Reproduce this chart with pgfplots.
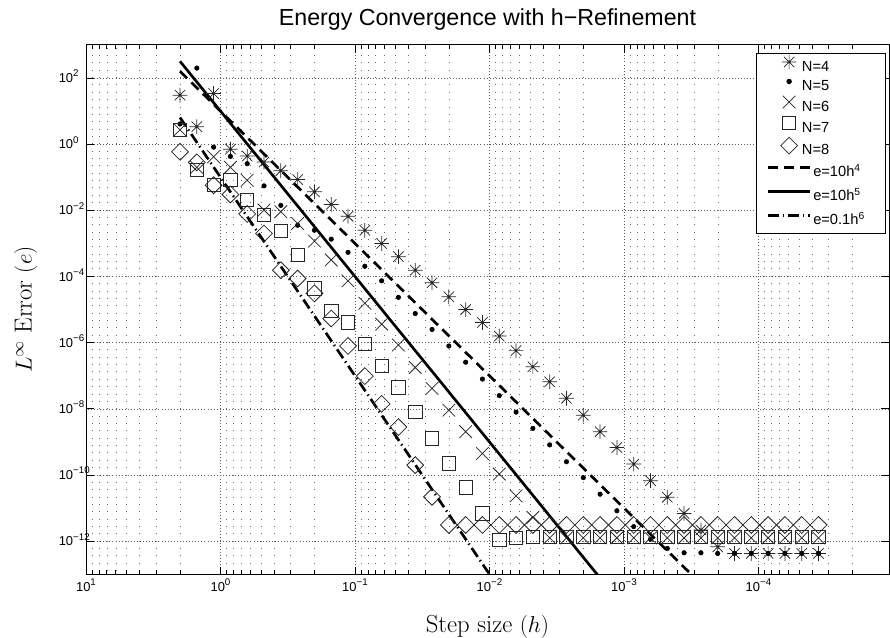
\documentclass[border=0pt]{standalone}
\usepackage{fontspec}
\setmainfont{Liberation Sans}
\newfontfamily\lmr{Latin Modern Roman}
\usepackage{pgfplots}
\usepackage{pgfplotstable}
\pgfplotsset{compat=1.18}

\pgfdeclareplotmark{mstar}{%
  \pgfpathmoveto{\pgfqpoint{-\pgfplotmarksize}{0pt}}\pgfpathlineto{\pgfqpoint{\pgfplotmarksize}{0pt}}%
  \pgfpathmoveto{\pgfqpoint{0pt}{-\pgfplotmarksize}}\pgfpathlineto{\pgfqpoint{0pt}{\pgfplotmarksize}}%
  \pgfpathmoveto{\pgfqpoint{-.707\pgfplotmarksize}{-.707\pgfplotmarksize}}\pgfpathlineto{\pgfqpoint{.707\pgfplotmarksize}{.707\pgfplotmarksize}}%
  \pgfpathmoveto{\pgfqpoint{-.707\pgfplotmarksize}{.707\pgfplotmarksize}}\pgfpathlineto{\pgfqpoint{.707\pgfplotmarksize}{-.707\pgfplotmarksize}}%
  \pgfusepathqstroke}
\pgfdeclareplotmark{mdiamond}{%
  \pgfpathmoveto{\pgfqpoint{0pt}{\pgfplotmarksize}}%
  \pgfpathlineto{\pgfqpoint{\pgfplotmarksize}{0pt}}%
  \pgfpathlineto{\pgfqpoint{0pt}{-\pgfplotmarksize}}%
  \pgfpathlineto{\pgfqpoint{-\pgfplotmarksize}{0pt}}%
  \pgfpathclose\pgfusepathqstroke}

\newcommand\tp[1]{10\raisebox{4.3pt}{\fontsize{7.3}{8}\selectfont #1}}
\newcommand\ytl[1]{\makebox[22pt][l]{\raisebox{0pt}[6.9pt][0pt]{\tp{#1}}}}

% columns: step size h, then log10 of the error for N=4..8
\pgfplotstableread{
h n4 n5 n6 n7 n8
2 1.48 0.61 0.43 0.43 -0.23
1.5 0.53 2.30 -0.70 -0.77 -0.55
1.125 1.53 -0.09 -0.38 -1.24 -1.24
0.84375 -0.15 -0.37 -0.70 -1.08 -1.52
0.6328125 -0.36 -0.59 -1.09 -1.68 -2.11
0.474609 -0.54 -1.26 -1.99 -2.14 -2.70
0.355957 -0.80 -1.85 -2.04 -2.63 -3.81
0.266968 -1.07 -2.45 -2.40 -3.35 -4.06
0.200226 -1.44 -2.60 -2.93 -4.36 -4.51
0.150169 -1.82 -2.87 -3.50 -5.04 -5.27
0.112627 -2.18 -3.27 -4.13 -5.39 -6.10
0.0844703 -2.60 -3.69 -4.81 -6.04 -7.01
0.0633527 -3.00 -4.13 -5.44 -6.71 -7.85
0.0475145 -3.40 -4.63 -6.07 -7.35 -8.55
0.0356359 -3.81 -5.12 -6.75 -8.10 -9.70
0.0267269 -4.19 -5.60 -7.38 -8.89 -10.66
0.0200452 -4.61 -6.10 -8.04 -9.65 -11.51
0.0150339 -5.00 -6.59 -8.69 -10.37 -11.51
0.0112754 -5.39 -7.10 -9.35 -11.16 -11.51
0.00845657 -5.80 -7.60 -9.97 -11.96 -11.51
0.00634243 -6.24 -8.10 -10.63 -11.91 -11.51
0.00475682 -6.73 -8.59 -11.28 -11.88 -11.51
0.00356762 -7.18 -9.09 -11.90 -11.88 -11.51
0.00267571 -7.68 -9.60 -11.90 -11.88 -11.51
0.00200678 -8.19 -10.08 -11.90 -11.88 -11.51
0.00150509 -8.69 -10.58 -11.90 -11.88 -11.51
0.00112882 -9.17 -11.08 -11.90 -11.88 -11.51
0.000846612 -9.67 -11.56 -11.90 -11.88 -11.51
0.000634959 -10.17 -11.94 -11.90 -11.88 -11.51
0.000476219 -10.67 -12.22 -11.90 -11.88 -11.51
0.000357164 -11.16 -12.35 -11.90 -11.88 -11.51
0.000267873 -11.66 -12.35 -11.90 -11.88 -11.51
0.000200905 -12.17 -12.37 -11.90 -11.88 -11.51
0.000150679 -12.37 -12.37 -11.90 -11.88 -11.51
0.000113009 -12.37 -12.37 -11.90 -11.88 -11.51
8.47566e-5 -12.37 -12.37 -11.90 -11.88 -11.51
6.35675e-5 -12.37 -12.37 -11.90 -11.88 -11.51
4.76756e-5 -12.37 -12.37 -11.90 -11.88 -11.51
3.57567e-5 -12.37 -12.37 -11.90 -11.88 -11.51
}\errdata

% reference slopes e=10h^4, e=10h^5, e=0.1h^6 at the end points
\pgfplotstableread{
h e4 e5 e6
2 160 320 6.4
3.57567e-5 1.634e-17 5.844e-22 2.09e-28
}\refdata

\begin{document}
\begin{tikzpicture}
\useasboundingbox (-64.5pt,-47.8pt) rectangle (603pt,430.7pt);
\begin{axis}[
  at={(0,0)}, anchor=south west,
  scale only axis, width=602.25pt, height=397pt,
  xmode=log, ymode=log, x dir=reverse,
  xmin=1.07e-5, xmax=10, ymin=1e-13, ymax=1e3,
  xtick={1e-4,1e-3,1e-2,1e-1,1,10},
  xticklabels={\tp{−4},\tp{−3},\tp{−2},\tp{−1},\tp{0},\tp{1}},
  minor xtick={2e-5,3e-5,4e-5,5e-5,6e-5,7e-5,8e-5,9e-5,
    2e-4,3e-4,4e-4,5e-4,6e-4,7e-4,8e-4,9e-4,
    2e-3,3e-3,4e-3,5e-3,6e-3,7e-3,8e-3,9e-3,
    2e-2,3e-2,4e-2,5e-2,6e-2,7e-2,8e-2,9e-2,
    0.2,0.3,0.4,0.5,0.6,0.7,0.8,0.9,2,3,4,5,6,7,8,9},
  ytick={1e-12,1e-10,1e-8,1e-6,1e-4,1e-2,1,1e2},
  yticklabels={\ytl{−12},\ytl{−10},\ytl{−8},\ytl{−6},\ytl{−4},\ytl{−2},\ytl{0},\ytl{2}},
  tick align=inside,
  major tick length=5.8pt, minor tick length=3pt,
  every tick/.style={black, line width=0.6pt},
  axis line style={line width=0.7pt},
  xmajorgrids, xminorgrids, ymajorgrids,
  major grid style={black!65, line width=0.5pt, dash pattern=on 0.5pt off 1.8pt},
  minor grid style={black!60, line width=0.5pt, dash pattern=on 0.6pt off 4.92pt, dash phase=3.06pt},
  tick label style={font=\fontsize{9.7}{11}\selectfont},
  xticklabel style={anchor=base, inner sep=0pt, yshift=-13pt},
  yticklabel style={inner sep=0pt, xshift=1.8pt},
  title={Energy Convergence with h−Refinement},
  title style={font=\fontsize{17.4}{19}\selectfont, at={([yshift=8.3pt]axis description cs:0.5,1)}, anchor=base, inner sep=0pt},
  xlabel={Step size $(h)$},
  xlabel style={font=\lmr\fontsize{18.5}{20}\selectfont, at={([yshift=-43.5pt]axis description cs:0.5,0)}, anchor=base, inner sep=0pt},
  ylabel={$L^\infty$ Error $(e)$},
  ylabel style={font=\lmr\fontsize{18.5}{20}\selectfont, at={([xshift=-40.7pt]axis description cs:0,0.5)}, anchor=base, inner sep=0pt},
  legend style={at={(1,1)}, anchor=north east, xshift=-2.5pt, yshift=-6.2pt,
    draw=black, line width=0.6pt, fill=white, inner xsep=7.5pt, inner ysep=0.8pt,
    font=\fontsize{11}{13}\selectfont, row sep=0pt, column sep=1.2pt,
    nodes={inner sep=0pt, text height=10.7pt, text depth=3.9pt, text width=46.5pt, align=left}},
  legend cell align=left,
]
\pgfplotsset{
  markimg/.style={legend image code/.code={\path[draw=none,fill=none] (0pt,0pt) -- (31.8pt,0pt); \draw[##1] plot coordinates {(15.9pt,3.4pt)};}},
  lineimg/.style={legend image code/.code={\draw[##1] (0pt,3.4pt) -- (31.8pt,3.4pt);}},
}
\addplot[only marks, mark=mstar, mark size=5.5pt, black!85, mark options={line width=0.55pt}, markimg]
  table[x=h, y expr=10^(\thisrow{n4})] {\errdata};
\addlegendentry{\hspace*{-8.5pt}N=4}
\addplot[only marks, mark=*, mark size=1.7pt, black, markimg]
  table[x=h, y expr=10^(\thisrow{n5})] {\errdata};
\addlegendentry{\hspace*{-8.5pt}N=5}
\addplot[only marks, mark=x, mark size=6.7pt, black!85, mark options={line width=0.55pt}, markimg]
  table[x=h, y expr=10^(\thisrow{n6})] {\errdata};
\addlegendentry{\hspace*{-8.5pt}N=6}
\addplot[only marks, mark=square, mark size=5pt, black!85, mark options={line width=0.6pt}, markimg]
  table[x=h, y expr=10^(\thisrow{n7})] {\errdata};
\addlegendentry{\hspace*{-8.5pt}N=7}
\addplot[only marks, mark=mdiamond, mark size=6.3pt, black!85, mark options={line width=0.6pt}, markimg]
  table[x=h, y expr=10^(\thisrow{n8})] {\errdata};
\addlegendentry{\hspace*{-8.5pt}N=8}
\addplot[black, line width=2pt, dash pattern=on 7.5pt off 4.5pt, lineimg] table[x=h, y=e4] {\refdata};
\addlegendentry[text height=12.4pt, text depth=5.6pt]{e=10h\textsuperscript{4}}
\addplot[black, line width=2pt, lineimg] table[x=h, y=e5] {\refdata};
\addlegendentry[text height=12.4pt, text depth=5.6pt]{e=10h\textsuperscript{5}}
\addplot[black, line width=2pt, dash pattern=on 8pt off 3pt on 1pt off 3pt, lineimg] table[x=h, y=e6] {\refdata};
\addlegendentry[text height=12.4pt, text depth=5.6pt]{e=0.1h\textsuperscript{6}}
\end{axis}
\end{tikzpicture}
\end{document}
